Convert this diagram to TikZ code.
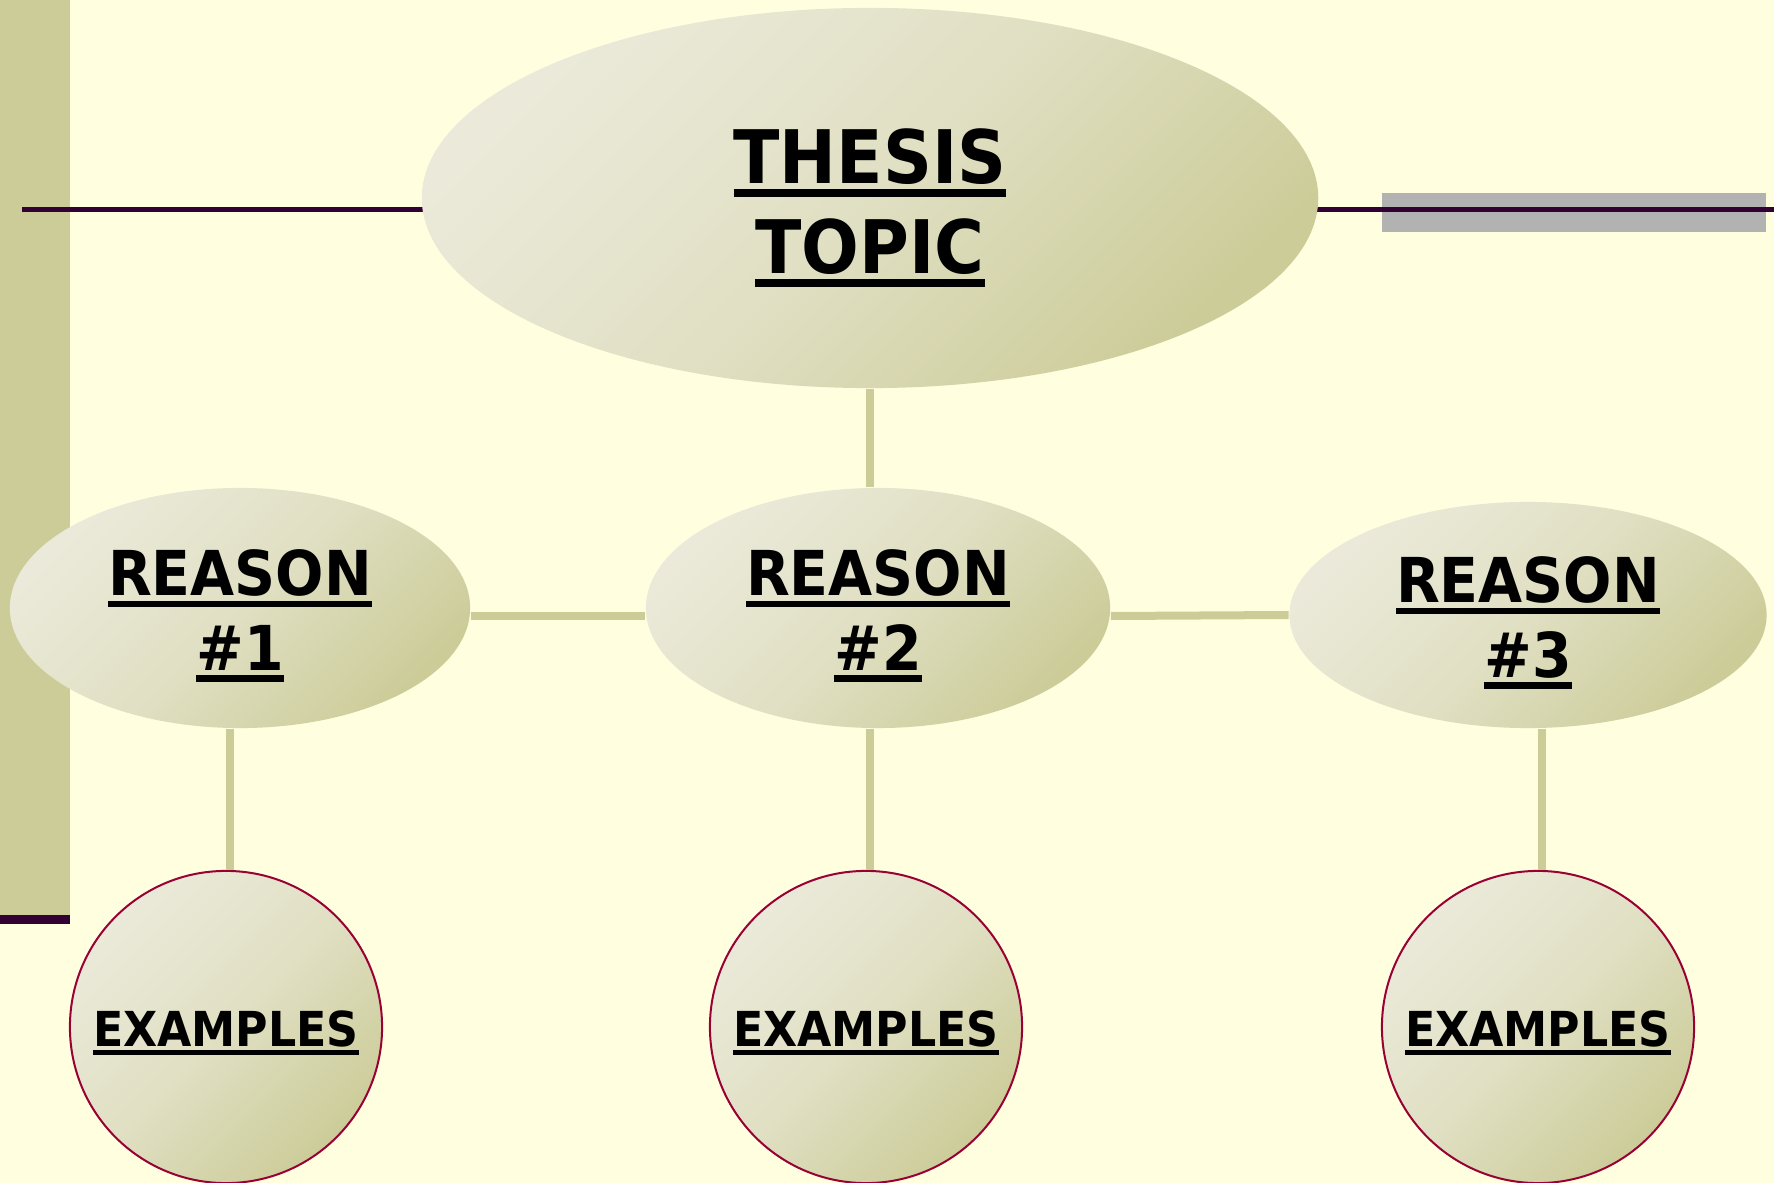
\documentclass[tikz,border=0pt]{standalone}
\usepackage{fontspec}
\newfontfamily\mapfont[FakeStretch=0.92]{DejaVu Sans}
\usetikzlibrary{shapes.geometric}
\usetikzlibrary{positioning}

\definecolor{paper}{HTML}{FFFFE0}
\definecolor{sage}{HTML}{CCCC99}
\definecolor{sagepale}{HTML}{EBEADA}
\definecolor{plum}{HTML}{330033}
\definecolor{rimred}{HTML}{990033}
\definecolor{tabgray}{HTML}{B2B2B2}

% thick underline as in the slide
\newcommand{\ulbar}[1]{\setbox0=\hbox{#1}\rlap{\rule[-0.18em]{\wd0}{0.105em}}\box0}
\newcommand{\topstrut}{\rule{0pt}{1em}}

\begin{document}
\begin{tikzpicture}[x=0.01cm, y=-0.01cm]
    \tikzset{
        bubble/.style={ellipse, inner sep=0pt, top color=sagepale, bottom color=sage,
            middle color=sagepale!65!sage, shading angle=45, align=center},
        topicfont/.style={font=\mapfont\bfseries\fontsize{21}{25.6}\selectfont},
        reasonfont/.style={font=\mapfont\bfseries\fontsize{17.6}{21.3}\selectfont},
        examplebox/.style={circle, inner sep=0pt, minimum size=3.12cm, draw=rimred,
            line width=0.02cm, top color=sagepale, bottom color=sage,
            middle color=sagepale!65!sage, shading angle=45,
            font=\mapfont\bfseries\fontsize{13.7}{16}\selectfont},
        link/.style={sage, line width=0.08cm}
    }

    \fill [paper] (0,0) rectangle (1774,1183);
    \useasboundingbox (0,0) rectangle (1774,1183);

    \fill [sage] (0,0) rectangle (70,915);
    \fill [plum] (0,915) rectangle (70,924);
    \fill [tabgray] (1382,193) rectangle (1766,232);
    \draw [plum, line width=0.045cm] (22,209.5) -- (1774,209.5);

    \node [bubble, topicfont, minimum width=8.96cm, minimum height=3.80cm] (thesis) at (870,198) {\topstrut\ulbar{THESIS}\\\ulbar{TOPIC}};

    \node [bubble, reasonfont, minimum width=4.60cm, minimum height=2.40cm] (r1) at (240,608) {\topstrut\ulbar{REASON}\\\ulbar{\#1}};
    \node [bubble, reasonfont, minimum width=4.64cm, minimum height=2.40cm] (r2) at (878,608) {\topstrut\ulbar{REASON}\\\ulbar{\#2}};
    \node [bubble, reasonfont, minimum width=4.77cm, minimum height=2.26cm] (r3) at (1528,615) {\topstrut\ulbar{REASON}\\\ulbar{\#3}};

    \node [examplebox] (ex1) at (226,1027) {\topstrut\ulbar{EXAMPLES}};
    \node [examplebox] (ex2) at (866,1027) {\topstrut\ulbar{EXAMPLES}};
    \node [examplebox] (ex3) at (1538,1027) {\topstrut\ulbar{EXAMPLES}};

    \draw [link] (thesis.south) -- (thesis.south |- r2.north);
    \draw [link] ([yshift=-0.08cm]r1.east) -- ([yshift=-0.08cm]r2.west);
    \draw [link] ([yshift=-0.08cm]r2.east) -- (r3.west);
    \foreach \i in {1, 2, 3} {
        \draw [link] ([xshift=0.04cm]ex\i.north |- r\i.south) -- ([xshift=0.04cm]ex\i.north);
    }

\end{tikzpicture}
\end{document}
